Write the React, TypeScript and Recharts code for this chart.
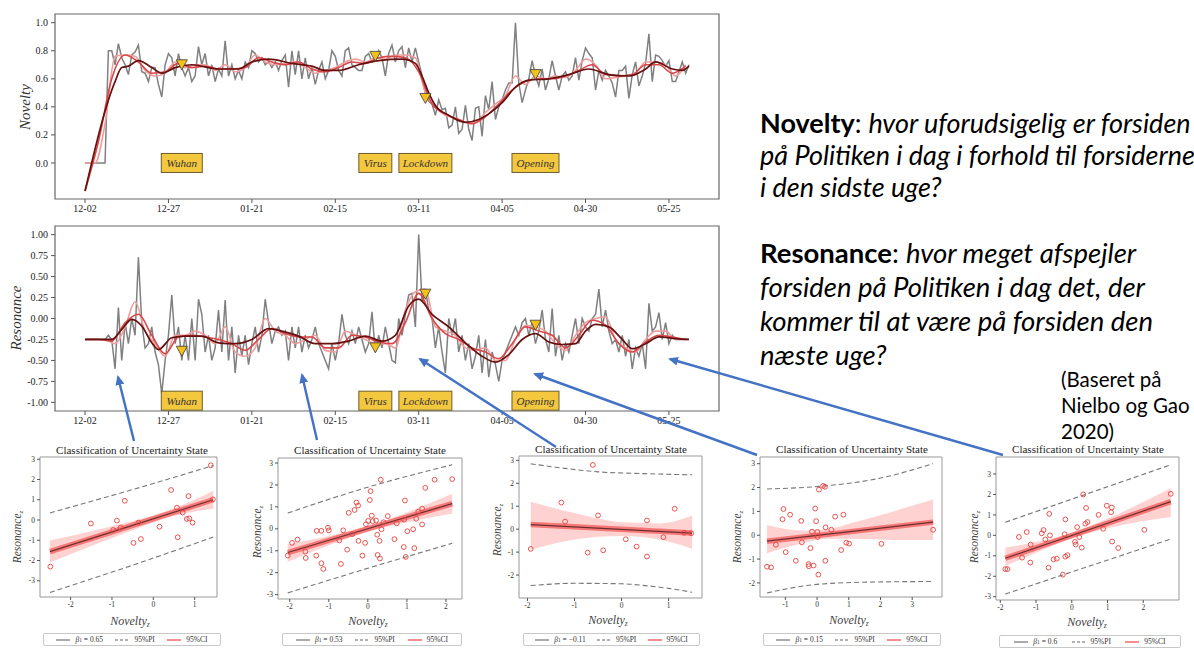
import React from "react";
import { ComposedChart, Line, Scatter, XAxis, YAxis, ReferenceArea, Area } from "recharts";

const SERIF = "'Liberation Serif', 'DejaVu Serif', serif";
const SANS = "Lato, 'Open Sans', 'Noto Sans', sans-serif";

// ---------- time series (day index from 12-02) ----------
const dateTickDays = [0, 25, 50, 75, 100, 125, 150, 175];
const dateTickLabels = ["12-02", "12-27", "01-21", "02-15", "03-11", "04-05", "04-30", "05-25"];

const noveltyRaw = [
  0, 0, 0, 0, 0, 0, 0, 0.8, 0.8, 0.7,
  0.85, 0.75, 0.7, 0.63, 0.77, 0.79, 0.84, 0.65, 0.64, 0.58,
  0.68, 0.68, 0.56, 0.47, 0.7, 0.78, 0.75, 0.62, 0.78, 0.68,
  0.62, 0.68, 0.58, 0.62, 0.83, 0.7, 0.78, 0.62, 0.7, 0.58,
  0.67, 0.62, 0.87, 0.62, 0.7, 0.6, 0.66, 0.6, 0.72, 0.68,
  0.8, 0.78, 0.72, 0.75, 0.7, 0.72, 0.68, 0.72, 0.66, 0.73,
  0.77, 0.54, 0.8, 0.63, 0.8, 0.6, 0.75, 0.6, 0.68, 0.56,
  0.66, 0.72, 0.6, 0.66, 0.8, 0.76, 0.66, 0.62, 0.8, 0.82,
  0.7, 0.68, 0.66, 0.66, 0.76, 0.78, 0.72, 0.74, 0.8, 0.75,
  0.62, 0.78, 0.84, 0.72, 0.8, 0.83, 0.68, 0.82, 0.72, 0.82,
  0.72, 0.62, 0.5, 0.44, 0.42, 0.34, 0.45, 0.38, 0.39, 0.25,
  0.27, 0.4, 0.21, 0.24, 0.41, 0.24, 0.16, 0.39, 0.4, 0.19,
  0.48, 0.38, 0.58, 0.31, 0.4, 0.45, 0.52, 0.57, 0.57, 1.0,
  0.57, 0.43, 0.52, 0.6, 0.73, 0.62, 0.55, 0.67, 0.52, 0.6,
  0.73, 0.62, 0.52, 0.62, 0.65, 0.59, 0.62, 0.75, 0.59, 0.73,
  0.82, 0.78, 0.75, 0.52, 0.66, 0.59, 0.66, 0.62, 0.57, 0.47,
  0.66, 0.66, 0.69, 0.46, 0.63, 0.72, 0.55, 0.62, 0.71, 0.92,
  0.58, 0.77, 0.76, 0.73, 0.69, 0.73, 0.58, 0.58, 0.65, 0.72,
  0.64, 0.7,
];
// sampled every 3 days
const noveltyLight = [
  0, 0, 0.28, 0.76, 0.77, 0.76, 0.66, 0.62, 0.64, 0.72, 0.68, 0.7, 0.7, 0.66, 0.7, 0.65, 0.68, 0.77, 0.72, 0.7,
  0.71, 0.72, 0.68, 0.64, 0.66, 0.68, 0.72, 0.74, 0.72, 0.75, 0.74, 0.77, 0.77, 0.75, 0.5, 0.4, 0.34, 0.32, 0.29, 0.29,
  0.36, 0.42, 0.48, 0.62, 0.56, 0.62, 0.6, 0.62, 0.61, 0.66, 0.74, 0.7, 0.6, 0.61, 0.62, 0.64, 0.72, 0.72, 0.7, 0.62, 0.7,
];
// sampled every 4 days
const noveltyMid = [
  -0.2, 0.15, 0.6, 0.77, 0.72, 0.64, 0.65, 0.71, 0.68, 0.69, 0.67, 0.67, 0.68, 0.75, 0.72, 0.7, 0.72, 0.67, 0.65, 0.68,
  0.72, 0.71, 0.75, 0.76, 0.75, 0.65, 0.42, 0.35, 0.31, 0.28, 0.33, 0.42, 0.52, 0.58, 0.6, 0.6, 0.62, 0.66, 0.7, 0.63,
  0.62, 0.63, 0.7, 0.7, 0.64, 0.69,
];
const noveltyTrend: [number, number][] = [
  [0, -0.2], [9, 0.58], [11, 0.68], [13, 0.69], [16, 0.73], [20, 0.68], [23, 0.64], [27, 0.68], [32, 0.7], [40, 0.67],
  [46, 0.67], [50, 0.72], [55, 0.74], [62, 0.71], [68, 0.69], [72, 0.66], [76, 0.66], [82, 0.7], [88, 0.73], [95, 0.74],
  [99, 0.71], [101, 0.62], [103, 0.5], [105, 0.41], [109, 0.34], [114, 0.29], [118, 0.31], [121, 0.35], [125, 0.43],
  [129, 0.54], [133, 0.59], [139, 0.6], [145, 0.63], [151, 0.67], [157, 0.63], [163, 0.62], [168, 0.67], [171, 0.72],
  [176, 0.67], [179, 0.66], [181, 0.69],
];

const resonanceRaw = [
  -0.25, -0.25, -0.25, -0.25, -0.25, -0.25, -0.25, -0.2, -0.25, -0.6,
  0.13, -0.5, -0.05, -0.3, 0.0, -0.2, 0.73, -0.05, -0.35, -0.3,
  -0.1, -0.4, -0.55, -0.9, -0.5, -0.2, 0.28, -0.3, -0.1, -0.5,
  -0.2, -0.5, 0.0, -0.5, 0.23, 0.05, -0.4, -0.2, -0.5, -0.35,
  0.1, -0.4, 0.22, -0.5, -0.1, -0.65, -0.2, -0.45, -0.2, -0.55,
  -0.3, -0.1, -0.4, -0.2, 0.23, -0.05, -0.3, -0.15, -0.1, -0.2,
  -0.15, -0.5, -0.1, -0.35, -0.1, -0.4, -0.2, -0.35, -0.25, -0.1,
  -0.3, -0.4, -0.5, -0.6, -0.3, -0.5, -0.3, 0.05, -0.2, -0.3,
  -0.15, -0.3, -0.1, -0.25, -0.4, -0.3, 0.08, -0.4, -0.2, -0.35,
  -0.1, -0.3, -0.5, -0.53, 0.0, -0.2, 0.05, 0.28, 0.3, -0.1,
  1.0, 0.2, 0.35, 0.1, 0.0, -0.35, -0.1, -0.4, -0.65, 0.0,
  -0.2, 0.0, -0.4, -0.2, -0.5, -0.3, -0.6, -0.45, -0.2, -0.65,
  -0.25, -0.7, -0.4, -0.55, -0.75, -0.5, -0.4, -0.3, -0.2, -0.1,
  -0.2, -0.05, 0.0, -0.2, -0.05, -0.3, -0.15, 0.1, -0.25, -0.4,
  0.12, -0.45, -0.2, -0.5, -0.3, -0.4, -0.2, 0.0, -0.3, 0.0,
  -0.1, -0.15, 0.0, 0.05, 0.35, -0.1, 0.1, -0.15, -0.3, -0.25,
  -0.4, -0.2, -0.45, -0.25, -0.6, -0.35, -0.45, -0.3, -0.6, 0.18,
  -0.15, -0.1, 0.07, -0.25, -0.05, -0.3, -0.2, -0.25, -0.25, -0.25,
  -0.25, -0.25,
];
const resonanceLight = [
  -0.25, -0.25, -0.25, -0.3, -0.1, 0.2, -0.15, -0.3, -0.45, -0.2, -0.2, -0.15, -0.2, -0.3, -0.1, -0.4, -0.45, -0.35,
  0.0, -0.15, -0.2, -0.3, -0.25, -0.2, -0.38, -0.4, -0.15, -0.2, -0.25, -0.3, -0.3, -0.35, 0.1, 0.32, 0.35, -0.1,
  -0.15, -0.2, -0.35, -0.38, -0.35, -0.5, -0.5, -0.25, -0.08, -0.1, -0.15, -0.3, -0.38, -0.2, -0.05, 0.0, 0.02, -0.25,
  -0.35, -0.4, -0.25, -0.15, -0.15, -0.25, -0.25,
];
const resonanceMid = [
  -0.25, -0.25, -0.27, -0.05, 0.05, -0.2, -0.42, -0.22, -0.2, -0.22, -0.25, -0.3, -0.38, -0.25, -0.12, -0.18, -0.22,
  -0.22, -0.35, -0.35, -0.2, -0.22, -0.28, -0.3, -0.05, 0.3, 0.0, -0.18, -0.25, -0.35, -0.4, -0.48, -0.3, -0.1, -0.15,
  -0.2, -0.35, -0.2, -0.02, -0.08, -0.3, -0.4, -0.28, -0.2, -0.22, -0.25,
];
const resonanceTrend: [number, number][] = [
  [0, -0.25], [8, -0.25], [11, -0.13], [14, -0.01], [17, -0.09], [20, -0.29], [22, -0.37], [26, -0.23], [30, -0.21],
  [35, -0.21], [40, -0.29], [45, -0.3], [50, -0.25], [55, -0.12], [59, -0.15], [64, -0.21], [69, -0.3], [74, -0.3],
  [79, -0.27], [84, -0.21], [89, -0.27], [93, -0.2], [97, 0.15], [100, 0.23], [104, 0.05], [109, -0.1], [114, -0.29],
  [119, -0.45], [123, -0.52], [127, -0.43], [131, -0.25], [135, -0.18], [139, -0.28], [143, -0.31], [147, -0.3],
  [150, -0.15], [153, -0.07], [157, -0.1], [161, -0.25], [164, -0.36], [168, -0.3], [172, -0.22], [177, -0.24],
  [181, -0.25],
];

const eventNames = ["Wuhan", "Virus", "Lockdown", "Opening"];
const eventDays = [29, 87, 102, 135];
const noveltyAtEvents = [0.7, 0.76, 0.46, 0.63];
const resonanceAtEvents = [-0.39, -0.35, 0.29, -0.08];
const noveltyBoxLevel = 0;
const resonanceBoxLevel = -0.98;
const noveltyTicks = [0, 0.2, 0.4, 0.6, 0.8, 1.0];
const resonanceTicks = [-1, -0.75, -0.5, -0.25, 0, 0.25, 0.5, 0.75, 1];

// ---------- regression panels ----------
const betas = ["0.65", "0.53", "\u22120.11", "0.15", "0.6"];
const panelPoints: [number, number][][] = [
  [[-2.49, -2.3], [-1.51, -0.17], [-0.97, -0.49], [-0.88, -0.03], [-0.79, -0.37], [-0.69, 0.95], [-0.48, -1.13],
   [-0.36, -0.13], [-0.3, -0.94], [0.15, -0.33], [0.43, 1.48], [0.57, 0.61], [0.59, -0.85], [0.71, 0.37], [0.81, 0.05],
   [0.85, 1.18], [0.87, 0.08], [0.95, -0.13], [1.39, 2.7], [1.44, 1.02]],
  [[-2.05, -1.22], [-1.94, -0.64], [-1.8, -0.49], [-1.6, -1.04], [-1.59, -1.33], [-1.32, -1.22], [-1.31, -0.09],
   [-1.19, -0.09], [-1.19, -1.57], [-1.14, -1.83], [-1.02, 0.05], [-1.0, -0.07], [-0.73, -0.53], [-0.69, -1.6],
   [-0.63, -0.07], [-0.53, -0.95], [-0.49, 0.73], [-0.4, -0.24], [-0.34, 0.86], [-0.29, 1.2], [-0.25, 1.06],
   [-0.24, -0.55], [-0.14, -1.22], [-0.07, -0.64], [-0.05, 0.21], [0.01, 0.36], [0.05, 1.31], [0.07, 1.72], [0.1, 0.6],
   [0.12, 0.35], [0.21, 0.38], [0.24, -0.27], [0.25, -1.19], [0.3, -0.55], [0.31, -1.35], [0.33, 2.24], [0.35, -0.02],
   [0.4, 0.3], [0.51, 0.58], [0.68, -0.47], [0.74, 0.25], [0.93, 0.42], [0.92, -0.83], [0.95, 1.29], [0.97, -1.28],
   [1.01, -0.11], [1.16, -0.02], [1.19, -0.88], [1.24, 0.46], [1.29, 0.78], [1.39, 0.92], [1.39, 0.2], [1.47, 1.87],
   [1.71, 2.24], [2.16, 2.27]],
  [[-1.93, -0.86], [-1.28, 1.16], [-1.2, 0.33], [-0.72, -1.02], [-0.61, 2.8], [-0.5, 0.6], [-0.39, -0.92], [0.09, -0.44],
   [0.32, -0.76], [0.54, 0.38], [0.54, -1.19], [0.89, -0.35], [1.13, 0.89], [1.33, -0.16], [1.48, -0.18]],
  [[-1.58, -1.32], [-1.45, -1.35], [-1.3, -0.4], [-1.09, 0.67], [-1.06, 1.1], [-0.99, -0.71], [-0.85, 0.86],
   [-0.67, -1.07], [-0.5, 0.6], [-0.48, -0.3], [-0.21, -0.54], [-0.16, 0.15], [-0.27, -1.21], [-0.26, -1.3],
   [-0.11, -1.27], [-0.06, 1.12], [-0.03, 0.59], [0.01, 0.14], [0.02, -0.07], [0.04, -1.65], [0.06, 1.91], [0.19, 2.07],
   [0.25, 2.03], [0.26, -1.07], [0.27, 0.33], [0.45, 0.23], [0.57, 0.78], [0.76, -0.62], [0.83, 0.86], [0.92, -0.31],
   [1.01, -0.35], [2.03, -0.36], [3.66, 0.23]],
  [[-1.86, -1.65], [-1.8, -1.65], [-1.48, -0.08], [-1.39, -1.09], [-1.26, 0.16], [-1.16, -1.33], [-1.15, -0.45],
   [-0.84, 0.1], [-0.79, 0.26], [-0.74, -0.2], [-0.65, -1.58], [-0.63, 1.05], [-0.61, 0.0], [-0.51, -1.17],
   [-0.42, -1.14], [-0.25, -1.92], [-0.2, 0.05], [-0.18, 0.78], [-0.18, -1.04], [-0.12, -0.97], [0.09, -0.32],
   [0.11, -0.45], [0.15, 0.4], [0.21, -0.08], [0.28, -0.6], [0.32, 2.0], [0.38, 0.57], [0.4, 1.34], [0.44, 0.65],
   [0.75, 1.0], [0.88, 0.32], [0.98, 1.45], [1.1, 1.13], [1.12, 1.36], [1.13, -0.3], [1.3, -0.62], [2.03, 0.27],
   [2.77, 2.03]],
];
const panelFits: [number, number][][] = [
  [[-2.5, -1.56], [1.45, 1.0]],
  [[-2.05, -1.08], [2.16, 1.15]],
  [[-1.93, 0.2], [1.5, -0.17]],
  [[-1.58, -0.25], [3.66, 0.55]],
  [[-1.86, -1.12], [2.77, 1.65]],
];
const panelBands: [number, number, number][][] = [
  [[-2.5, -2.1, -1.0], [-1.5, -1.28, -0.55], [-0.5, -0.5, -0.05], [0, -0.12, 0.22], [0.5, 0.2, 0.58], [1, 0.42, 1.0], [1.45, 0.55, 1.45]],
  [[-2.05, -1.5, -0.7], [-1, -0.75, -0.33], [0, -0.13, 0.13], [1, 0.3, 0.75], [2.16, 0.7, 1.6]],
  [[-1.93, -0.9, 1.2], [-1, -0.45, 0.7], [0, -0.3, 0.3], [0.8, -0.45, 0.25], [1.5, -0.85, 0.6]],
  [[-1.58, -0.76, 0.43], [-0.5, -0.35, 0.2], [0.3, -0.15, 0.25], [1.2, -0.15, 0.55], [2.4, -0.2, 1.0], [3.66, -0.2, 1.5]],
  [[-1.86, -1.5, -0.6], [-1, -0.85, -0.33], [0, -0.15, 0.13], [1, 0.35, 0.82], [2.77, 0.9, 2.3]],
];
const panelPIUpper: [number, number][][] = [
  [[-2.5, 0.35], [0, 1.8], [1.45, 2.69]],
  [[-2.05, 0.72], [0, 1.9], [2.16, 2.92]],
  [[-1.93, 2.85], [-1.2, 2.65], [-0.5, 2.5], [0.5, 2.42], [1.5, 2.37]],
  [[-1.58, 1.94], [0.08, 2.05], [1.87, 2.36], [3.66, 3.0]],
  [[-1.86, 0.64], [2.77, 3.45]],
];
const panelPILower: [number, number][][] = [
  [[-2.5, -3.58], [0, -1.88], [1.45, -0.84]],
  [[-2.05, -2.92], [0, -1.8], [2.16, -0.66]],
  [[-1.93, -2.46], [-1, -2.36], [0, -2.38], [0.5, -2.46], [1, -2.58], [1.5, -2.75]],
  [[-1.58, -2.42], [0.08, -2.05], [1.87, -1.96], [3.66, -1.94]],
  [[-1.86, -2.87], [2.77, -0.18]],
];
const panelXDomains: [number, number][] = [[-2.74, 1.54], [-2.3, 2.41], [-2.18, 1.71], [-1.8, 3.94], [-2.12, 3.0]];
const panelYDomains: [number, number][] = [[-3.8, 3.11], [-3.2, 3.23], [-3.0, 3.19], [-2.59, 3.28], [-3.16, 3.83]];
const panelXTicks = [[-2, -1, 0, 1], [-2, -1, 0, 1, 2], [-2, -1, 0, 1], [-1, 0, 1, 2, 3], [-2, -1, 0, 1, 2]];
const panelYTicks = [[-3, -2, -1, 0, 1, 2, 3], [-3, -2, -1, 0, 1, 2, 3], [-2, -1, 0, 1, 2, 3], [-2, -1, 0, 1, 2, 3], [-3, -2, -1, 0, 1, 2, 3]];

// layout (pixels)
const panelLayout = [
  { left: 40, top: 457, width: 177, height: 140, titleX: 132, titleY: 450, xLabX: 130, xLabY: 621, yLabX: 18, yLabY: 537, legL: 43, legT: 633, legW: 178 },
  { left: 278, top: 458, width: 184, height: 141, titleX: 370, titleY: 450, xLabX: 368, xLabY: 621, yLabX: 258, yLabY: 532, legL: 282, legT: 633, legW: 180 },
  { left: 519, top: 456, width: 183, height: 142, titleX: 611, titleY: 449, xLabX: 608, xLabY: 620, yLabX: 498, yLabY: 530, legL: 523, legT: 633, legW: 177 },
  { left: 760, top: 457, width: 182, height: 140, titleX: 852, titleY: 449, xLabX: 849, xLabY: 620, yLabX: 738, yLabY: 537, legL: 763, legT: 633, legW: 178 },
  { left: 996, top: 457, width: 183, height: 143, titleX: 1088, titleY: 449, xLabX: 1087, xLabY: 622, yLabX: 975, yLabY: 537, legL: 999, legT: 635, legW: 182 },
];
const arrowSegments = [
  [134, 441, 118, 377],
  [317, 440, 302, 375],
  [556, 447, 420, 359],
  [757, 455, 535, 374],
  [1003, 455, 670, 359],
];
const boxWidths: Record<string, number> = { Wuhan: 41, Virus: 33, Lockdown: 53, Opening: 47 };

const triangleShape = (p: any) => (
  <path
    d={`M${p.cx - 5.5},${p.cy - 5} L${p.cx + 5.5},${p.cy - 5} L${p.cx},${p.cy + 5} Z`}
    fill="#F2C21B"
    stroke="#3a3a3a"
    strokeWidth={0.8}
  />
);
const boxShape = (p: any) => {
  const w = boxWidths[p.payload.name] || 40;
  return (
    <g>
      <rect x={p.cx - w / 2} y={p.cy - 9.5} width={w} height={19} fill="#F3C73E" stroke="#6b5e2e" strokeWidth={1} />
      <text x={p.cx} y={p.cy + 4} textAnchor="middle" fontFamily={SERIF} fontStyle="italic" fontSize={11} fill="#333">
        {p.payload.name}
      </text>
    </g>
  );
};
const ringShape = (p: any) => <circle cx={p.cx} cy={p.cy} r={2.4} fill="none" stroke="#E8413F" strokeWidth={0.9} />;

function TimeChart(props: any) {
  const { top, raw, light, mid, trend, atEvents, boxLevel, domain, ticks, digits, label, labelX, labelY } = props;
  const rawData = raw.map((y: number, i: number) => ({ x: i, y }));
  const lightData = light.map((y: number, i: number) => ({ x: i * 3, y }));
  const midData = mid.map((y: number, i: number) => ({ x: i * 4, y }));
  const trendData = trend.map(([x, y]: [number, number]) => ({ x, y }));
  const markData = eventDays.map((x, i) => ({ x, y: atEvents[i] }));
  const boxData = eventDays.map((x, i) => ({ x, y: boxLevel, name: eventNames[i] }));
  const tickStyle = { fontSize: 10, fill: "#222", fontFamily: SERIF };
  return (
    <div style={{ position: "absolute", left: 0, top, width: 730, height: 222 }}>
      <ComposedChart width={730} height={222} margin={{ top: 14, right: 11, left: 0, bottom: 7 }}>
        <XAxis
          type="number"
          dataKey="x"
          domain={[-9, 190]}
          ticks={dateTickDays}
          interval={0}
          allowDataOverflow
          tickFormatter={(v: number) => dateTickLabels[dateTickDays.indexOf(v)]}
          axisLine={false}
          tickLine={{ stroke: "#555" }}
          tickSize={4}
          tickMargin={2}
          height={16}
          tick={tickStyle}
        />
        <YAxis
          type="number"
          dataKey="y"
          domain={domain}
          ticks={ticks}
          interval={0}
          allowDataOverflow
          tickFormatter={(v: number) => v.toFixed(digits)}
          axisLine={false}
          tickLine={{ stroke: "#555" }}
          tickSize={4}
          tickMargin={3}
          width={55}
          tick={tickStyle}
        />
        <ReferenceArea x1={-9} x2={190} y1={domain[0]} y2={domain[1]} fill="none" stroke="#666" strokeWidth={1.2} ifOverflow="visible" />
        <Line data={rawData} dataKey="y" type="linear" stroke="#808080" strokeWidth={1.5} dot={false} isAnimationActive={false} />
        <Line data={lightData} dataKey="y" type="monotone" stroke="#EE9E9E" strokeWidth={1.6} dot={false} isAnimationActive={false} />
        <Line data={midData} dataKey="y" type="monotone" stroke="#D9474A" strokeWidth={1.6} dot={false} isAnimationActive={false} />
        <Line data={trendData} dataKey="y" type="monotone" stroke="#661010" strokeWidth={1.7} dot={false} isAnimationActive={false} />
        <Scatter data={boxData} dataKey="y" shape={boxShape} isAnimationActive={false} />
        <Scatter data={markData} dataKey="y" shape={triangleShape} isAnimationActive={false} />
      </ComposedChart>
      <div
        style={{
          position: "absolute",
          left: labelX,
          top: labelY - top,
          transform: "translate(-50%, -50%) rotate(-90deg)",
          fontFamily: SERIF,
          fontStyle: "italic",
          fontSize: 15,
          color: "#333",
          whiteSpace: "nowrap",
        }}
      >
        {label}
      </div>
    </div>
  );
}

function Panel({ i }: { i: number }) {
  const L = panelLayout[i];
  const ml = 30, mt = 4, mr = 6, mb = 20;
  const xDomain = panelXDomains[i];
  const yDomain = panelYDomains[i];
  const pts = panelPoints[i].map(([x, y]) => ({ x, y }));
  const fit = panelFits[i].map(([x, y]) => ({ x, y }));
  const band = panelBands[i].map(([x, lo, hi]) => ({ x, band: [lo, hi] }));
  const up = panelPIUpper[i].map(([x, y]) => ({ x, y }));
  const lo = panelPILower[i].map(([x, y]) => ({ x, y }));
  const tickStyle = { fontSize: 7.5, fill: "#333", fontFamily: SERIF };
  const abs: React.CSSProperties = { position: "absolute", whiteSpace: "nowrap" };
  return (
    <>
      <div style={{ ...abs, left: L.left - ml, top: L.top - mt }}>
        <ComposedChart width={L.width + ml + mr} height={L.height + mt + mb} margin={{ top: mt, right: mr, left: 0, bottom: 0 }}>
          <XAxis
            type="number"
            dataKey="x"
            domain={xDomain}
            ticks={panelXTicks[i]}
            interval={0}
            allowDataOverflow
            axisLine={false}
            tickLine={{ stroke: "#555" }}
            tickSize={3}
            tickMargin={2}
            height={mb}
            tick={tickStyle}
          />
          <YAxis
            type="number"
            dataKey="y"
            domain={yDomain}
            ticks={panelYTicks[i]}
            interval={0}
            allowDataOverflow
            axisLine={false}
            tickLine={{ stroke: "#555" }}
            tickSize={3}
            tickMargin={2}
            width={ml}
            tick={tickStyle}
          />
          <ReferenceArea x1={xDomain[0]} x2={xDomain[1]} y1={yDomain[0]} y2={yDomain[1]} fill="none" stroke="#999" strokeWidth={1} ifOverflow="visible" />
          <Area data={band} dataKey="band" type="monotone" stroke="none" fill="#FF3030" fillOpacity={0.22} isAnimationActive={false} />
          <Line data={fit} dataKey="y" type="linear" stroke="#F01C1C" strokeOpacity={0.5} strokeWidth={5.5} dot={false} isAnimationActive={false} />
          <Line data={fit} dataKey="y" type="linear" stroke="#6A3030" strokeWidth={1.2} dot={false} isAnimationActive={false} />
          <Line data={up} dataKey="y" type="monotone" stroke="#777" strokeWidth={1.1} strokeDasharray="5 3" dot={false} isAnimationActive={false} />
          <Line data={lo} dataKey="y" type="monotone" stroke="#777" strokeWidth={1.1} strokeDasharray="5 3" dot={false} isAnimationActive={false} />
          <Scatter data={pts} dataKey="y" shape={ringShape} isAnimationActive={false} />
        </ComposedChart>
      </div>
      <div style={{ ...abs, left: L.titleX, top: L.titleY, transform: "translate(-50%, -50%)", fontFamily: SERIF, fontSize: 11, color: "#222" }}>
        Classification of Uncertainty State
      </div>
      <div style={{ ...abs, left: L.xLabX, top: L.xLabY, transform: "translate(-50%, -50%)", fontFamily: SERIF, fontStyle: "italic", fontSize: 12, color: "#444" }}>
        Novelty<span style={{ fontSize: 7.5, verticalAlign: -2 }}>z</span>
      </div>
      <div
        style={{
          ...abs,
          left: L.yLabX,
          top: L.yLabY,
          transform: "translate(-50%, -50%) rotate(-90deg)",
          fontFamily: SERIF,
          fontStyle: "italic",
          fontSize: 11.5,
          color: "#444",
        }}
      >
        Resonance<span style={{ fontSize: 7, verticalAlign: -2 }}>z</span>
      </div>
      <div
        style={{
          position: "absolute",
          left: L.legL,
          top: L.legT,
          width: L.legW,
          height: 13,
          border: "1px solid #c8c8c8",
          borderRadius: 2,
          boxSizing: "border-box",
          display: "flex",
          alignItems: "center",
          justifyContent: "space-evenly",
          fontFamily: SERIF,
          fontSize: 7.5,
          color: "#333",
          background: "#fff",
          whiteSpace: "nowrap",
        }}
      >
        <span style={{ display: "flex", alignItems: "center", gap: 5 }}>
          <svg width={14} height={4}>
            <line x1={0} y1={2} x2={14} y2={2} stroke="#666" strokeWidth={1.1} />
          </svg>
          <span>
            <i>β</i>
            <span style={{ fontSize: 5.5 }}>1</span> = {betas[i]}
          </span>
        </span>
        <span style={{ display: "flex", alignItems: "center", gap: 5 }}>
          <svg width={14} height={4}>
            <line x1={0} y1={2} x2={14} y2={2} stroke="#666" strokeWidth={1.1} strokeDasharray="3 2" />
          </svg>
          <span>95%PI</span>
        </span>
        <span style={{ display: "flex", alignItems: "center", gap: 5 }}>
          <svg width={14} height={4}>
            <line x1={0} y1={2} x2={14} y2={2} stroke="#F03030" strokeWidth={1.1} />
          </svg>
          <span>95%CI</span>
        </span>
      </div>
    </>
  );
}

export default function App() {
  const textStyle: React.CSSProperties = {
    position: "absolute",
    fontFamily: SANS,
    color: "#000",
    whiteSpace: "nowrap",
  };
  return (
    <div style={{ position: "absolute", left: 0, top: 0, width: 1194, height: 653, overflow: "hidden", background: "#fff" }}>
      <TimeChart
        top={0}
        raw={noveltyRaw}
        light={noveltyLight}
        mid={noveltyMid}
        trend={noveltyTrend}
        atEvents={noveltyAtEvents}
        boxLevel={noveltyBoxLevel}
        domain={[-0.257, 1.062]}
        ticks={noveltyTicks}
        digits={1}
        label="Novelty"
        labelX={25}
        labelY={107}
      />
      <TimeChart
        top={212}
        raw={resonanceRaw}
        light={resonanceLight}
        mid={resonanceMid}
        trend={resonanceTrend}
        atEvents={resonanceAtEvents}
        boxLevel={resonanceBoxLevel}
        domain={[-1.103, 1.103]}
        ticks={resonanceTicks}
        digits={2}
        label="Resonance"
        labelX={16}
        labelY={318}
      />
      {[0, 1, 2, 3, 4].map((i) => (
        <Panel key={i} i={i} />
      ))}
      <div style={{ ...textStyle, left: 760, top: 107, fontSize: 27, lineHeight: "32px" }}>
        <b>Novelty</b>: <i>hvor uforudsigelig er forsiden</i>
        <br />
        <i>på Politiken i dag i forhold til forsiderne</i>
        <br />
        <i>i den sidste uge?</i>
      </div>
      <div style={{ ...textStyle, left: 760, top: 236, fontSize: 27.5, lineHeight: "34px" }}>
        <b>Resonance</b>: <i>hvor meget afspejler</i>
        <br />
        <i>forsiden på Politiken i dag det, der</i>
        <br />
        <i>kommer til at være på forsiden den</i>
        <br />
        <i>næste uge?</i>
      </div>
      <div style={{ ...textStyle, left: 1061, top: 366, fontSize: 20.5, lineHeight: "26px" }}>
        (Baseret på
        <br />
        Nielbo og Gao
        <br />
        2020)
      </div>
      <svg width={1194} height={653} style={{ position: "absolute", left: 0, top: 0, pointerEvents: "none" }}>
        <defs>
          <marker id="arrowHead" markerWidth={10} markerHeight={9} refX={8} refY={4.5} orient="auto" markerUnits="userSpaceOnUse">
            <path d="M0,0 L10,4.5 L0,9 Z" fill="#4472C4" />
          </marker>
        </defs>
        {arrowSegments.map(([x1, y1, x2, y2], k) => (
          <line key={k} x1={x1} y1={y1} x2={x2} y2={y2} stroke="#4472C4" strokeWidth={2.4} markerEnd="url(#arrowHead)" />
        ))}
      </svg>
    </div>
  );
}
